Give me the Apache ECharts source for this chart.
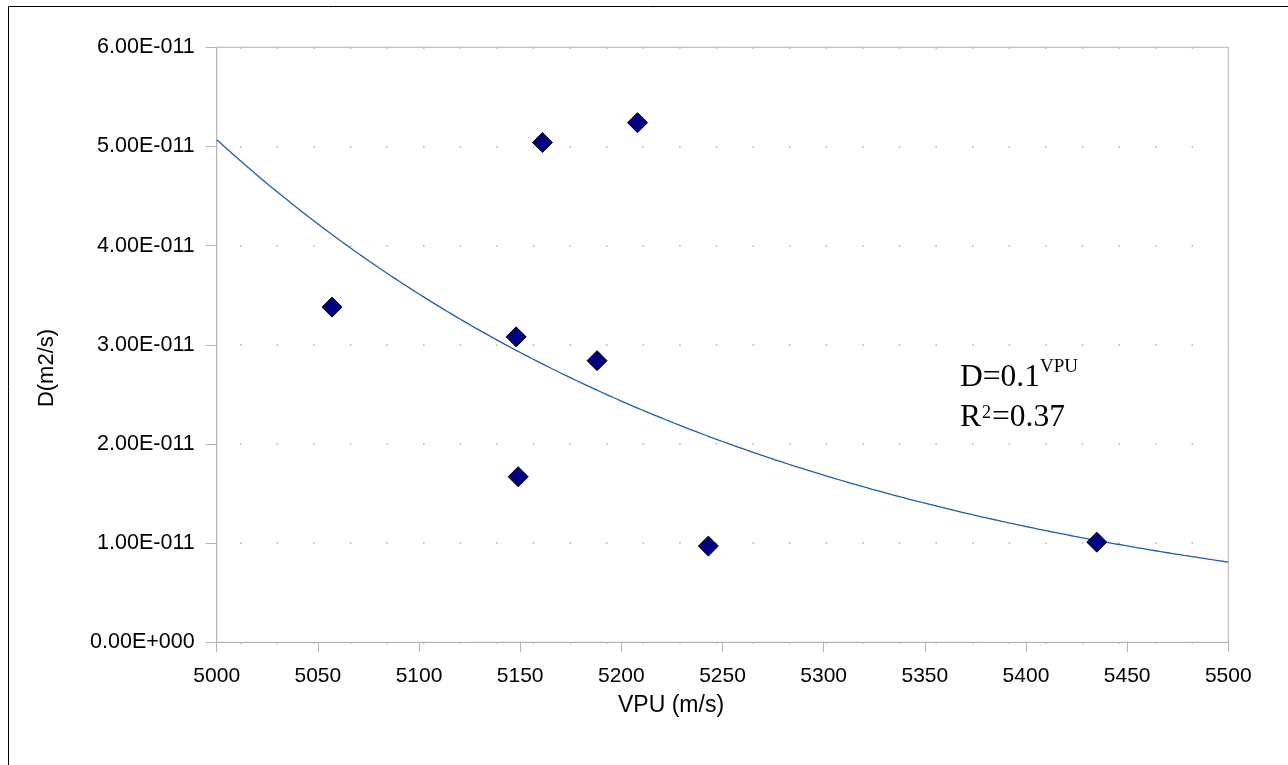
<!DOCTYPE html>
<html>
<head>
<meta charset="utf-8">
<script src="https://cdn.jsdelivr.net/npm/echarts@6/dist/echarts.min.js"></script>
<style>
  html, body { margin: 0; padding: 0; background: #ffffff; }
  #chart { width: 1288px; height: 765px; }
</style>
</head>
<body>
<div id="chart"></div>
<script>
// Measured samples: P-wave velocity (m/s) against diffusion coefficient (m2/s)
const vpu = [5057, 5161, 5208, 5148, 5188, 5149, 5243, 5435];
const diff = [3.38e-11, 5.04e-11, 5.24e-11, 3.08e-11, 2.84e-11, 1.67e-11, 0.97e-11, 1.01e-11];

// Axis ranges
const xMin = 5000, xMax = 5500, xStep = 50;
const yMin = 0, yMax = 6e-11, yStep = 1e-11;

// Annotation text
const fitLabel = 'D=0.1';
const fitExp = 'VPU';
const r2Label = 'R';
const r2Sup = '2';
const r2Value = '=0.37';

// Exponential trend line: least squares fit of ln(D) on VPU
function expFit(xs, ys) {
  const n = xs.length;
  const ly = ys.map(Math.log);
  const mx = xs.reduce((a, b) => a + b, 0) / n;
  const my = ly.reduce((a, b) => a + b, 0) / n;
  let sxy = 0, sxx = 0;
  for (let i = 0; i < n; i++) {
    sxy += (xs[i] - mx) * (ly[i] - my);
    sxx += (xs[i] - mx) * (xs[i] - mx);
  }
  const b = sxy / sxx;
  const a = my - b * mx;
  return x => Math.exp(a + b * x);
}
const fit = expFit(vpu, diff);
const trend = [];
for (let x = xMin; x <= xMax; x += 2) trend.push([x, fit(x)]);

function sciLabel(v) {
  if (Math.abs(v) < 1e-20) return '0.00E+000';
  const parts = v.toExponential(2).split('e');
  const e = parseInt(parts[1], 10);
  return parts[0] + 'E' + (e < 0 ? '-' : '+') + String(Math.abs(e)).padStart(3, '0');
}

const grey = '#b3b3b3';
const sans = '"Liberation Sans", Arial, sans-serif';
const serif = '"Liberation Serif", "Times New Roman", serif';

const chart = echarts.init(document.getElementById('chart'), null, { renderer: 'canvas' });
chart.setOption({
  animation: false,
  backgroundColor: '#ffffff',
  grid: {
    left: 216.7, right: 59.7, top: 47.3, bottom: 122.7,
    show: true, borderColor: grey, borderWidth: 1, backgroundColor: 'transparent'
  },
  xAxis: {
    type: 'value', min: xMin, max: xMax, interval: xStep,
    axisLine: { show: true, lineStyle: { color: grey, width: 1 } },
    axisTick: { show: true, length: 10, lineStyle: { color: grey, width: 1 } },
    axisLabel: { color: '#000', fontFamily: sans, fontSize: 21, margin: 23, formatter: v => String(v) },
    splitLine: { show: false }
  },
  yAxis: {
    type: 'value', min: yMin, max: yMax, interval: yStep,
    axisLine: { show: true, lineStyle: { color: grey, width: 1 } },
    axisTick: { show: true, length: 11, lineStyle: { color: grey, width: 1 } },
    axisLabel: { color: '#000', fontFamily: sans, fontSize: 21.5, margin: 22, formatter: sciLabel },
    splitLine: {
      show: true,
      lineStyle: { color: grey, width: 1.5, type: [1.5, 35.1], dashOffset: 13.3 }
    }
  },
  series: [
    {
      type: 'line',
      data: trend,
      showSymbol: false,
      smooth: false,
      lineStyle: { color: '#1f5ea8', width: 1.3 },
      silent: true,
      z: 2
    },
    {
      type: 'scatter',
      data: vpu.map((x, i) => [x, diff[i]]),
      symbol: 'diamond',
      symbolSize: 20,
      itemStyle: { color: '#000080', opacity: 1, borderColor: '#000000', borderWidth: 1 },
      z: 3
    }
  ],
  graphic: [
    {
      type: 'rect', silent: true,
      shape: { x: 8.5, y: 6.5, width: 1400, height: 1000 },
      style: { fill: 'none', stroke: '#000', lineWidth: 1 }
    },
    {
      type: 'text', silent: true, x: 618, y: 694,
      style: { text: 'VPU (m/s)', font: '23px ' + sans, fill: '#000', verticalAlign: 'top' }
    },
    {
      type: 'text', silent: true, x: 47, y: 368, rotation: Math.PI / 2,
      style: { text: 'D(m2/s)', font: '22px ' + sans, fill: '#000', align: 'center', verticalAlign: 'middle' }
    },
    {
      type: 'text', silent: true, x: 960, y: 362,
      style: { text: fitLabel, font: '31.5px ' + serif, fill: '#000', verticalAlign: 'top' }
    },
    {
      type: 'text', silent: true, x: 1040, y: 358,
      style: { text: fitExp, font: '19px ' + serif, fill: '#000', verticalAlign: 'top' }
    },
    {
      type: 'text', silent: true, x: 960, y: 402,
      style: { text: r2Label, font: '31.5px ' + serif, fill: '#000', verticalAlign: 'top' }
    },
    {
      type: 'text', silent: true, x: 982, y: 404,
      style: { text: r2Sup, font: '18px ' + serif, fill: '#000', verticalAlign: 'top' }
    },
    {
      type: 'text', silent: true, x: 992, y: 402,
      style: { text: r2Value, font: '31.5px ' + serif, fill: '#000', verticalAlign: 'top' }
    }
  ]
});
</script>
</body>
</html>
